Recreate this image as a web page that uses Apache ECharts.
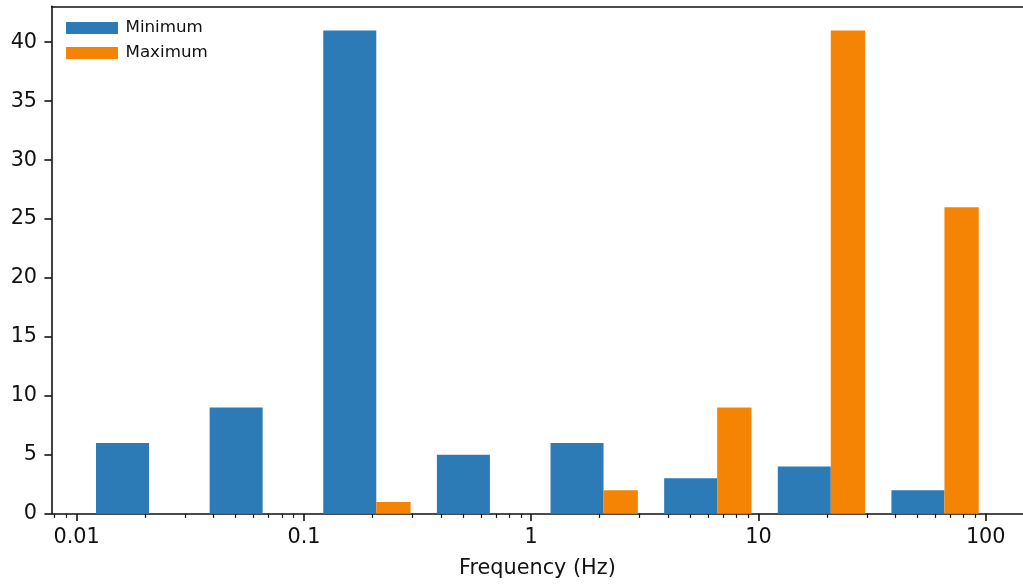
<!DOCTYPE html>
<html>
<head>
<meta charset="utf-8">
<script src="https://cdn.jsdelivr.net/npm/echarts@6/dist/echarts.min.js"></script>
<style>
html,body{margin:0;padding:0;background:#fff;}
#chart{width:1023px;height:586px;}
</style>
</head>
<body>
<div id="chart"></div>
<script>
// ---- data ----
const binEdges = [0.01, 0.031623, 0.1, 0.31623, 1, 3.1623, 10, 31.623, 100];
const minimumCounts = [6, 9, 41, 5, 6, 3, 4, 2];
const maximumCounts = [0, 0, 1, 0, 2, 9, 41, 26];
const seriesNames = ['Minimum', 'Maximum'];
const xTickValues = [0.01, 0.1, 1, 10, 100];
const xTickLabels = ['0.01', '0.1', '1', '10', '100'];
const yTickValues = [0, 5, 10, 15, 20, 25, 30, 35, 40];
const xAxisTitle = 'Frequency (Hz)';

// ---- build ----
const lg = Math.log10;
// matplotlib-style side-by-side hist bars (widths in linear space)
function barsFor(counts, slot) {
  return counts.map((v, i) => {
    const e0 = binEdges[i], w = binEdges[i + 1] - binEdges[i];
    const lo = e0 + w * (0.1 + 0.4 * slot);
    const hi = e0 + w * (0.5 + 0.4 * slot);
    return [lg(lo), lg(hi), v];
  });
}
const minorTicks = [];
for (let d = -3; d <= 2; d++) {
  for (let m = 2; m <= 9; m++) {
    const v = lg(m * Math.pow(10, d));
    if (v > -2.11 && v < 2.164) minorTicks.push(v);
  }
}
const majorTicks = xTickValues.map(lg);
const labelMap = {};
majorTicks.forEach((v, i) => { labelMap[v.toFixed(4)] = xTickLabels[i]; });

function renderItem(params, api) {
  const p0 = api.coord([api.value(0), api.value(2)]);
  const p1 = api.coord([api.value(1), 0]);
  return {
    type: 'rect',
    shape: { x: p0[0], y: p0[1], width: p1[0] - p0[0], height: p1[1] - p0[1] },
    style: { fill: api.visual('color') }
  };
}

const FONT = 'DejaVu Sans';
const TXT = '#111';
const XMIN = -2.1099, XMAX = 2.164;
const chart = echarts.init(document.getElementById('chart'), null, { renderer: 'canvas' });
chart.setOption({
  animation: false,
  color: ['#2c7bb6', '#f58304'],
  textStyle: { fontFamily: FONT },
  grid: { left: 51.7, top: 6.3, right: -1, bottom: 72.3, show: false, containLabel: false },
  legend: {
    data: seriesNames,
    orient: 'vertical',
    left: 61, top: 14.5,
    icon: 'rect',
    itemWidth: 52, itemHeight: 12,
    itemGap: 8,
    textStyle: { fontFamily: FONT, fontSize: 16.7, color: TXT, padding: [0, 0, 0, 2.5], lineHeight: 13 }
  },
  xAxis: [{
    type: 'value', min: XMIN, max: XMAX,
    axisLine: { show: true, onZero: false, lineStyle: { color: '#111', width: 1.6 } },
    splitLine: { show: false },
    axisTick: { show: true, length: 7.3, lineStyle: { color: '#111', width: 1.6 }, customValues: majorTicks },
    axisLabel: { customValues: majorTicks, margin: 13, fontSize: 20.8, color: TXT, fontFamily: FONT,
      formatter: v => labelMap[v.toFixed(4)] || '' },
    name: xAxisTitle, nameLocation: 'middle', nameGap: 44,
    nameTextStyle: { fontSize: 20.8, color: TXT, fontFamily: FONT, verticalAlign: 'top' }
  }, {
    type: 'value', min: XMIN, max: XMAX, position: 'bottom',
    axisLine: { show: false, onZero: false },
    splitLine: { show: false },
    axisTick: { show: true, length: 4.2, lineStyle: { color: '#111', width: 1.2 }, customValues: minorTicks },
    axisLabel: { show: false }
  }, {
    type: 'value', min: XMIN, max: XMAX, position: 'top',
    axisLine: { show: true, onZero: false, lineStyle: { color: '#111', width: 1.6 } },
    splitLine: { show: false },
    axisTick: { show: false },
    axisLabel: { show: false }
  }],
  yAxis: {
    type: 'value', min: 0, max: 43.05,
    axisLine: { show: true, onZero: false, lineStyle: { color: '#111', width: 1.6 } },
    splitLine: { show: false },
    axisTick: { show: true, length: 7.3, lineStyle: { color: '#111', width: 1.6 }, customValues: yTickValues },
    axisLabel: { customValues: yTickValues, margin: 14.6, fontSize: 20.8, color: TXT, fontFamily: FONT }
  },
  series: [
    { name: seriesNames[0], type: 'custom', xAxisIndex: 0, renderItem, encode: { x: [0, 1], y: 2 }, data: barsFor(minimumCounts, 0) },
    { name: seriesNames[1], type: 'custom', xAxisIndex: 0, renderItem, encode: { x: [0, 1], y: 2 }, data: barsFor(maximumCounts, 1) }
  ]
});
</script>
</body>
</html>
